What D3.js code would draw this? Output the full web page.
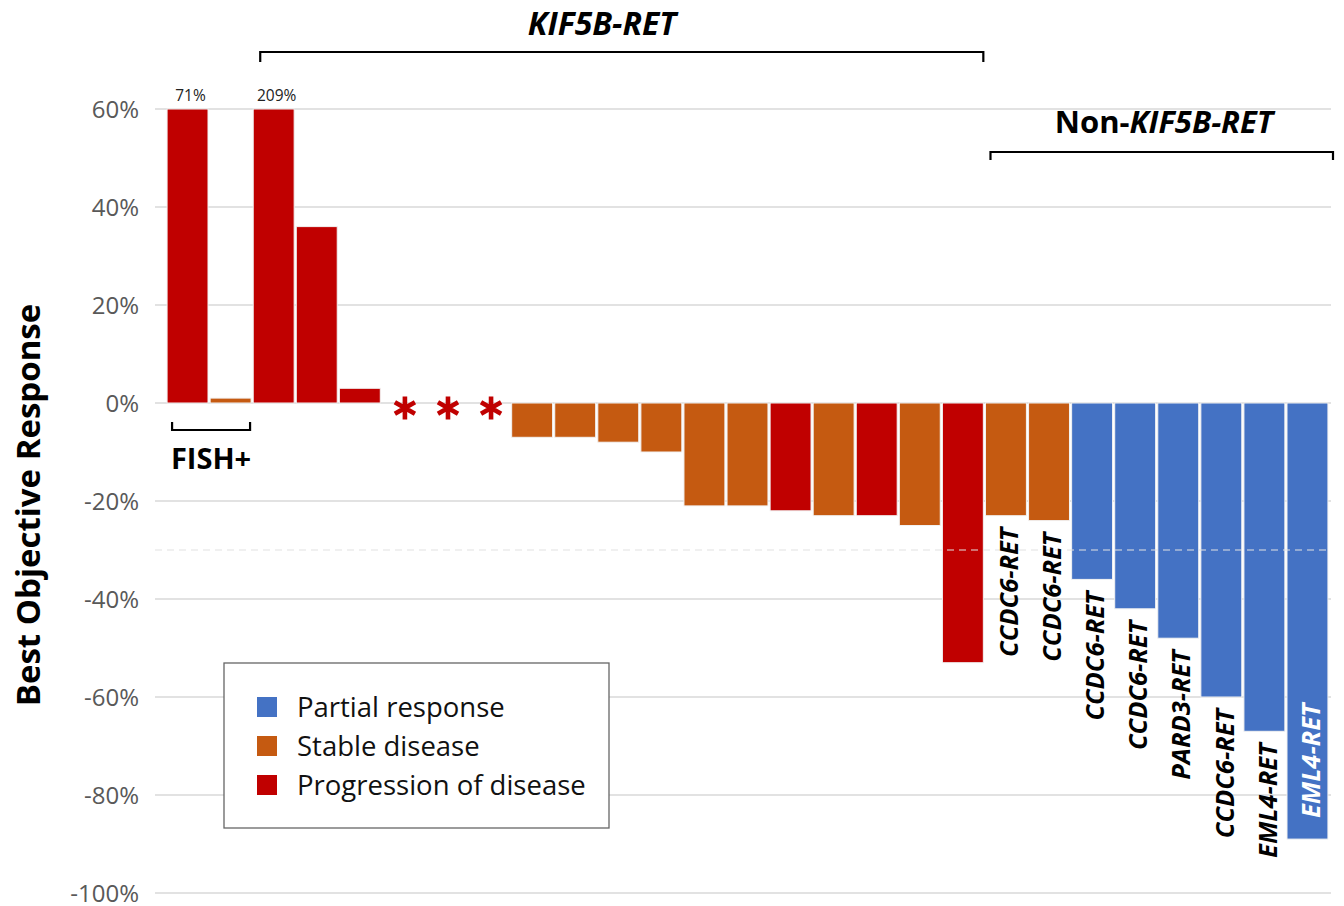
<!DOCTYPE html>
<html>
<head>
<meta charset="utf-8">
<script src="https://cdn.jsdelivr.net/npm/d3@7"></script>
<style>
  html, body { margin: 0; padding: 0; background: #fff; }
  svg { display: block; font-family: "Open Sans", Lato, sans-serif; }
</style>
</head>
<body>
<svg id="chart" width="1344" height="906"></svg>
<script>
// ---- data ----
const patients = d3.range(27);
// best objective response (%); null = no measurement (marked with asterisk)
const responses = [71, 1, 209, 36, 3, null, null, null, -7, -7, -8, -10, -21, -21, -22, -23, -23, -25, -53, -23, -24, -36, -42, -48, -60, -67, -89];
const outcomes = ["PD","SD","PD","PD","PD","PD","PD","PD","SD","SD","SD","SD","SD","SD","PD","SD","PD","SD","PD","SD","SD","PR","PR","PR","PR","PR","PR"];
const fusionLabels = [null,null,null,null,null,null,null,null,null,null,null,null,null,null,null,null,null,null,null,
  "CCDC6-RET","CCDC6-RET","CCDC6-RET","CCDC6-RET","PARD3-RET","CCDC6-RET","EML4-RET","EML4-RET"];
const yTicks = [60, 40, 20, 0, -20, -40, -60, -80, -100];
const legendKeys = ["PR", "SD", "PD"];
const legendNames = ["Partial response", "Stable disease", "Progression of disease"];
const colors = { PR: "#4472C4", SD: "#C55A11", PD: "#C00000" };
const thresholdPR = -30;

// ---- layout ----
const svg = d3.select("#chart");
const x = d3.scaleBand().domain(patients).range([166, 1329]).paddingInner(0.05).paddingOuter(0.025);
const y = d3.scaleLinear().domain([-100, 60]).range([893, 109]);
const gridX0 = 155, gridX1 = 1331;

// gridlines
svg.append("g").selectAll("line").data(yTicks).join("line")
  .attr("x1", gridX0).attr("x2", gridX1)
  .attr("y1", d => y(d)).attr("y2", d => y(d))
  .attr("stroke", "#d9d9d9").attr("stroke-width", 1.3);

// y axis labels
const yAxis = d3.axisLeft(y).tickValues(yTicks).tickFormat(d => d + "%").tickSize(0).tickPadding(0);
const gy = svg.append("g").attr("transform", "translate(139,0)").call(yAxis);
gy.select(".domain").remove();
gy.selectAll("text").attr("font-size", 24).attr("fill", "#595959").attr("font-family", "'Open Sans', sans-serif").attr("dy", "0.35em");

// y title
svg.append("text")
  .attr("transform", "translate(40,505) rotate(-90)")
  .attr("text-anchor", "middle")
  .attr("font-size", 33).attr("font-weight", "bold").attr("fill", "#000")
  .text("Best Objective Response");

// bars
const cap = v => Math.min(v, y.domain()[1]);
const barData = patients.filter(i => responses[i] !== null);
svg.append("g").selectAll("rect").data(barData).join("rect")
  .attr("x", i => x(i))
  .attr("width", x.bandwidth())
  .attr("y", i => y(Math.max(0, cap(responses[i]))))
  .attr("height", i => Math.abs(y(cap(responses[i])) - y(0)))
  .attr("fill", i => colors[outcomes[i]])
  .attr("stroke", "#f2f2f2").attr("stroke-width", 1);

// values above the axis max
svg.append("g").selectAll("text").data(barData.filter(i => responses[i] > y.domain()[1])).join("text")
  .attr("x", i => x(i) + x.bandwidth() / 2 + 3)
  .attr("y", y(y.domain()[1]) - 8)
  .attr("text-anchor", "middle").attr("font-size", 15.5).attr("fill", "#222")
  .text(i => responses[i] + "%");

// asterisks for patients without measurement
const starSym = d3.symbol().type(d3.symbolAsterisk).size(380);
svg.append("g").selectAll("path").data(patients.filter(i => responses[i] === null)).join("path")
  .attr("transform", i => `translate(${x(i) + x.bandwidth() / 2 + 2},${y(0) + 5})`)
  .attr("d", starSym)
  .attr("fill", "none").attr("stroke", colors.PD).attr("stroke-width", 4.6);

// PR threshold dashed line
svg.append("line")
  .attr("x1", gridX0).attr("x2", gridX1)
  .attr("y1", y(thresholdPR)).attr("y2", y(thresholdPR))
  .attr("stroke", "#e2e2e2").attr("stroke-width", 1.2).attr("stroke-dasharray", "7,5");

// fusion labels
const labelIdx = patients.filter(i => fusionLabels[i]);
svg.append("g").selectAll("text").data(labelIdx).join("text")
  .each(function(i) {
    const cx = x(i) + x.bandwidth() / 2 + 3;
    const end = y(responses[i]);
    const inside = end + 150 > y(-100);
    const t = d3.select(this);
    if (inside) {
      t.attr("transform", `translate(${cx},${end - 21}) rotate(-90)`)
       .attr("text-anchor", "start").attr("fill", "#fff");
    } else {
      t.attr("transform", `translate(${cx},${end + 12}) rotate(-90)`)
       .attr("text-anchor", "end").attr("fill", "#000");
    }
  })
  .attr("dy", "0.36em")
  .attr("font-size", 25.5).attr("font-weight", "bold").attr("font-style", "italic")
  .text(i => fusionLabels[i]);

// group brackets
function bracket(x0, x1, yb, tick) {
  svg.append("path")
    .attr("d", `M${x0},${yb + tick}V${yb}H${x1}V${yb + tick}`)
    .attr("fill", "none").attr("stroke", "#000").attr("stroke-width", 2.2);
}
const kifStart = x(2), kifEnd = x(18) + x.bandwidth();
bracket(kifStart + 7, kifEnd, 52, 10);
svg.append("text").attr("x", 602).attr("y", 35)
  .attr("text-anchor", "middle").attr("font-size", 32).attr("font-weight", "bold").attr("font-style", "italic")
  .text("KIF5B-RET");

const nonStart = x(19) + 5, nonEnd = 1333;
bracket(nonStart, nonEnd, 152, 8);
const nt = svg.append("text").attr("x", 1164).attr("y", 133)
  .attr("text-anchor", "middle").attr("font-size", 31).attr("font-weight", "bold");
nt.append("tspan").text("Non-");
nt.append("tspan").attr("font-style", "italic").text("KIF5B-RET");

// FISH+ bracket
const fx0 = x(0) + 5, fx1 = x(1) + x.bandwidth() - 1;
svg.append("path")
  .attr("d", `M${fx0},422V430H${fx1}V422`)
  .attr("fill", "none").attr("stroke", "#000").attr("stroke-width", 2.2);
svg.append("text").attr("x", (fx0 + fx1) / 2).attr("y", 469)
  .attr("text-anchor", "middle").attr("font-size", 29).attr("font-weight", "bold")
  .text("FISH+");

// legend
const lg = svg.append("g");
lg.append("rect").attr("x", 224).attr("y", 663).attr("width", 385).attr("height", 165)
  .attr("fill", "#fff").attr("stroke", "#666").attr("stroke-width", 1.3);
const items = lg.selectAll("g").data(legendKeys).join("g")
  .attr("transform", (d, i) => `translate(257,${707 + i * 39})`);
items.append("rect").attr("x", 0).attr("y", -10).attr("width", 20).attr("height", 20)
  .attr("fill", d => colors[d]);
items.append("text").attr("x", 40).attr("y", 0).attr("dy", "0.35em")
  .attr("font-size", 27.5).attr("fill", "#111")
  .text((d, i) => legendNames[i]);
</script>
</body>
</html>
